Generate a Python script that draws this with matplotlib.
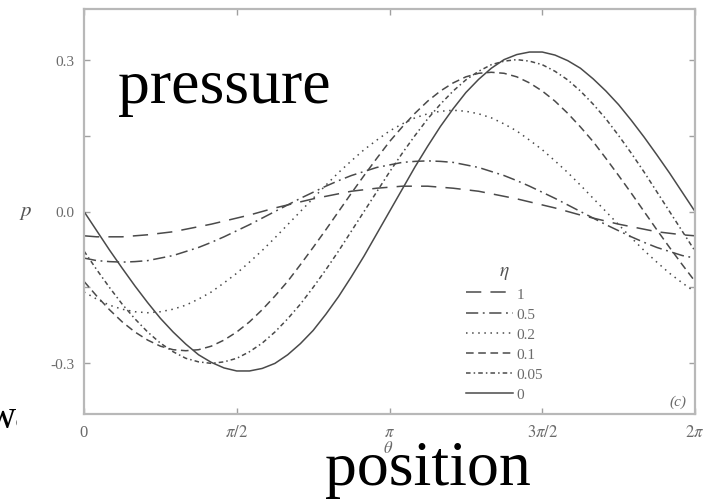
import matplotlib
matplotlib.use('Agg')
import matplotlib.pyplot as plt
import numpy as np
from matplotlib.patches import Rectangle

plt.rcParams['font.family'] = 'Liberation Serif'
plt.rcParams['mathtext.fontset'] = 'stix'

# theta in units of pi/24, from 0 to 2*pi
theta_steps = list(range(49))

# pressure curves, one per eta
eta_labels = ['1', '0.5', '0.2', '0.1', '0.05', '0']
p_eta1 = [-0.048, -0.050, -0.050, -0.050, -0.048, -0.046, -0.043, -0.040, -0.035, -0.030, -0.025, -0.019, -0.013,
          -0.007, 0.000, 0.007, 0.013, 0.019, 0.025, 0.030, 0.035, 0.040, 0.043, 0.046, 0.048,
          0.050, 0.050, 0.050, 0.048, 0.046, 0.043, 0.040, 0.035, 0.030, 0.025, 0.019, 0.013,
          0.007, 0.000, -0.007, -0.013, -0.019, -0.025, -0.030, -0.035, -0.040, -0.043, -0.046, -0.048]
p_eta05 = [-0.092, -0.097, -0.099, -0.100, -0.099, -0.097, -0.092, -0.087, -0.079, -0.071, -0.061, -0.050, -0.038,
           -0.026, -0.013, 0.000, 0.013, 0.026, 0.038, 0.050, 0.061, 0.071, 0.079, 0.087, 0.092,
           0.097, 0.099, 0.100, 0.099, 0.097, 0.092, 0.087, 0.079, 0.071, 0.061, 0.050, 0.038,
           0.026, 0.013, 0.000, -0.013, -0.026, -0.038, -0.050, -0.061, -0.071, -0.079, -0.087, -0.092]
p_eta02 = [-0.159, -0.173, -0.185, -0.193, -0.198, -0.200, -0.198, -0.193, -0.185, -0.173, -0.159, -0.141, -0.122,
           -0.100, -0.077, -0.052, -0.026, 0.000, 0.026, 0.052, 0.077, 0.100, 0.122, 0.141, 0.159,
           0.173, 0.185, 0.193, 0.198, 0.200, 0.198, 0.193, 0.185, 0.173, 0.159, 0.141, 0.122,
           0.100, 0.077, 0.052, 0.026, 0.000, -0.026, -0.052, -0.077, -0.100, -0.122, -0.141, -0.159]
p_eta01 = [-0.138, -0.167, -0.194, -0.218, -0.238, -0.254, -0.266, -0.273, -0.275, -0.273, -0.266, -0.254, -0.238,
           -0.218, -0.194, -0.167, -0.138, -0.105, -0.071, -0.036, 0.000, 0.036, 0.071, 0.105, 0.138,
           0.167, 0.194, 0.218, 0.238, 0.254, 0.266, 0.273, 0.275, 0.273, 0.266, 0.254, 0.238,
           0.218, 0.194, 0.167, 0.138, 0.105, 0.071, 0.036, 0.000, -0.036, -0.071, -0.105, -0.138]
p_eta005 = [-0.078, -0.115, -0.150, -0.183, -0.212, -0.238, -0.260, -0.277, -0.290, -0.297, -0.300, -0.297, -0.290,
            -0.277, -0.260, -0.238, -0.212, -0.183, -0.150, -0.115, -0.078, -0.039, 0.000, 0.039, 0.078,
            0.115, 0.150, 0.183, 0.212, 0.238, 0.260, 0.277, 0.290, 0.297, 0.300, 0.297, 0.290,
            0.277, 0.260, 0.238, 0.212, 0.183, 0.150, 0.115, 0.078, 0.039, 0.000, -0.039, -0.078]
p_eta0 = [0.000, -0.038, -0.076, -0.112, -0.147, -0.180, -0.211, -0.238, -0.262, -0.283, -0.298, -0.309, -0.315,
          -0.315, -0.310, -0.300, -0.283, -0.261, -0.235, -0.203, -0.168, -0.129, -0.088, -0.044, 0.000,
          0.044, 0.088, 0.129, 0.168, 0.203, 0.235, 0.261, 0.283, 0.300, 0.310, 0.315, 0.315,
          0.309, 0.298, 0.283, 0.262, 0.238, 0.211, 0.180, 0.147, 0.112, 0.076, 0.038, 0.000]

curves = [p_eta1, p_eta05, p_eta02, p_eta01, p_eta005, p_eta0]
dash_styles = [(0, (10, 6)), (0, (8, 3, 1.2, 3)), (0, (1, 3)), (0, (5, 3)), (0, (3, 2, 1, 2)), '-']

line_col = '#4a4a4a'
grey = '#6a6a6a'

fig = plt.figure(figsize=(7.19, 5.02), dpi=100)
ax = fig.add_axes([84/719, 87/502, 611/719, 405/502])

theta = np.array(theta_steps) * np.pi / 24
for vals, ls, lab in zip(curves, dash_styles, eta_labels):
    ax.plot(theta, vals, color=line_col, lw=1.1, linestyle=ls, label=lab)

ax.set_xlim(0, 2*np.pi)
ax.set_ylim(-0.4, 0.4)
ax.set_xticks([0, np.pi/2, np.pi, 3*np.pi/2, 2*np.pi])
ax.set_xticklabels(['0', r'$\pi/2$', r'$\pi$', r'$3\pi/2$', r'$2\pi$'], fontsize=12)
ax.set_yticks([-0.3, 0.0, 0.3])
ax.set_yticklabels(['-0.3', '0.0', '0.3'], fontsize=11)
ax.set_yticks([-0.15, 0.15], minor=True)
ax.tick_params(which='both', direction='in', top=True, right=True, length=4, width=1,
               color='#a0a0a0', labelcolor=grey, pad=7)
for s in ax.spines.values():
    s.set_color('#b8b8b8')
    s.set_linewidth(1.6)

ax.text(-0.095, 0.5, '$p$', transform=ax.transAxes, ha='center', va='center', fontsize=15, color='#555555')
ax.text(0.498, -0.084, r'$\theta$', transform=ax.transAxes, ha='center', va='center', fontsize=12, color=grey)
ax.text(0.972, 0.032, '(c)', transform=ax.transAxes, ha='center', va='center', fontsize=11,
        color=grey, style='italic')

leg = ax.legend(loc='upper left', bbox_to_anchor=(0.612, 0.395), frameon=False, fontsize=11,
                title=r'$\eta$', title_fontsize=14, handlelength=3.1, handletextpad=0.25,
                labelspacing=0.42, borderpad=0)
for t in leg.get_texts():
    t.set_color(grey)
leg.get_title().set_color('#555555')

# overlay annotations
fig.text(118/719, 1 - 103/502, 'pressure', fontsize=46, ha='left', va='baseline', color='black')
fig.text(325/719, 1 - 485/502, 'position', fontsize=46, ha='left', va='baseline', color='black')
fig.text(-12/719, 1 - 428/502, 'wa', fontsize=28, ha='left', va='baseline', color='black', zorder=1)
fig.patches.append(Rectangle((17/719, 52/502), 25/719, 50/502, transform=fig.transFigure,
                             facecolor='white', edgecolor='none', zorder=2))

fig.savefig('out.png', dpi=100)
